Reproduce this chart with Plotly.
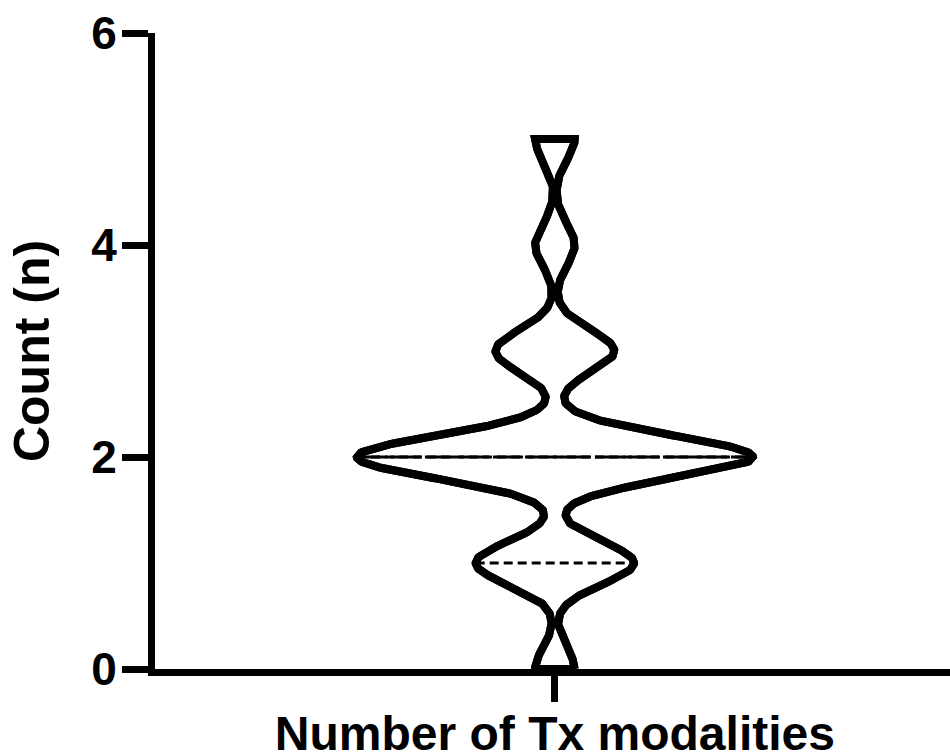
import numpy as np
import plotly.graph_objects as go

# ---- data ----
category = ["Number of Tx modalities"]
count_values = [0, 1, 2, 3, 4, 5]          # number of treatment modalities
count_freq = [1, 4, 10, 3, 1, 1]           # how many subjects had each count
y_ticks = [0, 2, 4, 6]
y_title = "Count (n)"

# ---- violin (kernel density, truncated at min/max like Prism) ----
data = np.repeat(count_values, count_freq).astype(float)
bw = 0.2
grid = np.linspace(data.min(), data.max(), 800)
dens = np.exp(-0.5 * ((grid[:, None] - data[None, :]) / bw) ** 2).sum(axis=1)
max_half = 0.249
half = max_half * dens / dens.max()

def half_at(v):
    return float(np.interp(v, grid, half))

q1, med, q3 = np.percentile(data, [25, 50, 75], method="inverted_cdf")

xs = np.concatenate([half, -half[::-1], half[:1]])
ys = np.concatenate([grid, grid[::-1], grid[:1]])

FONT = "Liberation Sans, Arial, sans-serif"

fig = go.Figure()
fig.add_trace(go.Scatter(
    x=xs, y=ys, mode="lines", fill="toself", fillcolor="white",
    line=dict(color="black", width=8), hoverinfo="skip", showlegend=False,
))
for q in (q1, q3):
    w = half_at(q)
    fig.add_trace(go.Scatter(
        x=[-w, w], y=[q, q], mode="lines",
        line=dict(color="black", width=3, dash="9px,5px"),
        showlegend=False, hoverinfo="skip",
    ))
w = half_at(med)
fig.add_trace(go.Scatter(
    x=[-w, w], y=[med, med], mode="lines",
    line=dict(color="black", width=3, dash="30px,4px"),
    showlegend=False, hoverinfo="skip",
))
# redraw outline on top
fig.add_trace(go.Scatter(
    x=xs, y=ys, mode="lines",
    line=dict(color="black", width=8), hoverinfo="skip", showlegend=False,
))

fig.update_layout(
    width=950, height=756,
    margin=dict(l=155, r=0, t=33, b=87),
    paper_bgcolor="white", plot_bgcolor="white",
    font=dict(family=FONT, color="black", size=46, weight="bold"),
    xaxis=dict(
        range=[-0.503, 0.497], tickvals=[0], ticktext=category,
        ticks="outside", ticklen=26, tickwidth=7, tickcolor="black",
        showline=True, linewidth=7, linecolor="black",
        showgrid=False, zeroline=False, automargin=False,
        tickfont=dict(family=FONT, size=48, weight="bold"),
        ticklabelstandoff=-10,
    ),
    yaxis=dict(
        range=[0, 6], tickvals=y_ticks,
        ticks="outside", ticklen=26, tickwidth=7, tickcolor="black",
        showline=True, linewidth=7, linecolor="black",
        showgrid=False, zeroline=False, automargin=False,
        tickfont=dict(family=FONT, size=46, weight="bold"),
        ticklabelstandoff=-4,
        title=dict(text=y_title, font=dict(family=FONT, size=50, weight="bold"), standoff=28),
    ),
)

fig.write_html("out.html")
